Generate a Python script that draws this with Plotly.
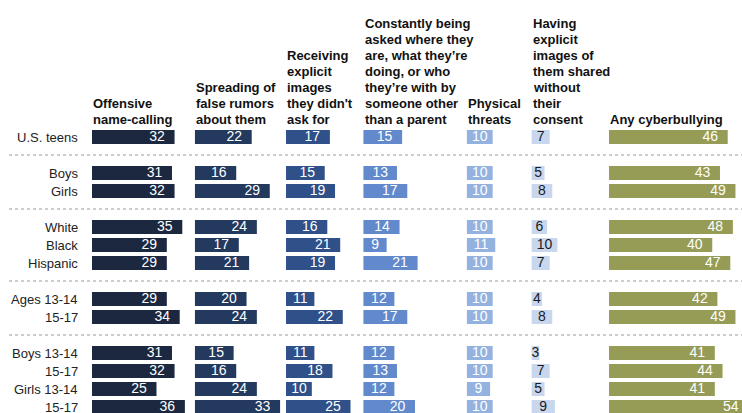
import plotly.graph_objects as go

# ---- data ----
row_labels = ["U.S. teens", "Boys", "Girls", "White", "Black", "Hispanic",
              "Ages 13-14", "15-17", "Boys 13-14", "15-17", "Girls 13-14", "15-17"]
row_slots = [0, 2, 3, 5, 6, 7, 9, 10, 12, 13, 14, 15]

headers = [
    ["Offensive", "name-calling"],
    ["Spreading of", "false rumors", "about them"],
    ["Receiving", "explicit", "images", "they didn't", "ask for"],
    ["Constantly being", "asked where they", "are, what they’re", "doing, or who",
     "they’re with by", "someone other", "than a parent"],
    ["Physical", "threats"],
    ["Having", "explicit", "images of", "them shared", "without", "their", "consent"],
    ["Any cyberbullying"],
]

name_calling = [32, 31, 32, 35, 29, 29, 29, 34, 31, 32, 25, 36]
false_rumors = [22, 16, 29, 24, 17, 21, 20, 24, 15, 16, 24, 33]
received_images = [17, 15, 19, 16, 21, 19, 11, 22, 11, 18, 10, 25]
constantly_asked = [15, 13, 17, 14, 9, 21, 12, 17, 12, 13, 12, 20]
physical_threats = [10, 10, 10, 10, 11, 10, 10, 10, 10, 10, 9, 10]
images_shared = [7, 5, 8, 6, 10, 7, 4, 8, 3, 7, 5, 9]
any_cyberbullying = [46, 43, 49, 48, 40, 47, 42, 49, 41, 44, 41, 54]

series = [name_calling, false_rumors, received_images, constantly_asked,
          physical_threats, images_shared, any_cyberbullying]

# ---- styling / layout ----
colors = ["#1c2840", "#23395d", "#2f5088", "#6189cc", "#94b2e0", "#c9d7ee", "#969c55"]
text_colors = ["white", "white", "white", "white", "white", "#1a1a1a", "white"]
col_offsets = [0.0, 39.9, 75.2, 105.2, 145.3, 170.4, 200.4]

W, H = 742, 413
PX_PER_UNIT = 2.58
X0_PX = 92.0
x_range = [-X0_PX / PX_PER_UNIT, (W - X0_PX) / PX_PER_UNIT]
ROW_PX = 18.0
Y0_PX = 137.0
y_range = [(H - Y0_PX) / ROW_PX, -Y0_PX / ROW_PX]

FONT = "Liberation Sans, Arial, sans-serif"

fig = go.Figure()

for vals, off, col, tcol in zip(series, col_offsets, colors, text_colors):
    fig.add_trace(go.Bar(
        orientation="h", y=row_slots, x=vals, base=[off] * len(vals),
        width=0.78, marker=dict(color=col, line=dict(width=0)),
        showlegend=False, hoverinfo="x+y",
    ))
    pad = 10 / PX_PER_UNIT
    tx = []
    for v in vals:
        nd = len(str(v))
        tw = 7.5 * nd / PX_PER_UNIT
        end = off + v
        tx.append(max(end - pad - tw / 2, off + v / 2))
    fig.add_trace(go.Scatter(
        x=tx, y=row_slots, mode="text", text=[str(v) for v in vals],
        textposition="middle center",
        textfont=dict(family=FONT, size=14, color=tcol),
        showlegend=False, hoverinfo="skip", cliponaxis=True,
    ))

annotations = []
for lab, s in zip(row_labels, row_slots):
    annotations.append(dict(
        x=(80 - X0_PX) / PX_PER_UNIT, y=s, xref="x", yref="y",
        text=lab, showarrow=False, xanchor="right", yanchor="middle",
        font=dict(family=FONT, size=13, color="#222222"),
    ))

LAST_LINE_PX = 119.0
LINE_PX = 15.9
for lines, off in zip(headers, col_offsets):
    n = len(lines)
    for i, ln in enumerate(lines):
        ypx = LAST_LINE_PX - (n - 1 - i) * LINE_PX
        annotations.append(dict(
            x=off - 0.3, y=(ypx - Y0_PX) / ROW_PX, xref="x", yref="y",
            text="<b>" + ln + "</b>", showarrow=False, xanchor="left",
            yanchor="middle", align="left",
            font=dict(family=FONT, size=13, color="#111111"),
        ))

shapes = []
for s in [1, 4, 8, 11]:
    shapes.append(dict(
        type="line", xref="paper", yref="y", x0=9 / W, x1=1, y0=s, y1=s,
        line=dict(color="#9a9a9a", width=1, dash="dot"),
    ))

fig.update_layout(
    width=W, height=H, margin=dict(l=0, r=0, t=0, b=0, autoexpand=False),
    paper_bgcolor="white", plot_bgcolor="white",
    barmode="overlay",
    xaxis=dict(range=x_range, visible=False, fixedrange=True),
    yaxis=dict(range=y_range, visible=False, fixedrange=True),
    annotations=annotations, shapes=shapes,
    font=dict(family=FONT),
)

fig.write_html(
    "out.html",
    config={"displayModeBar": False},
    post_script="document.body.style.margin='0';document.body.style.padding='0';",
)
